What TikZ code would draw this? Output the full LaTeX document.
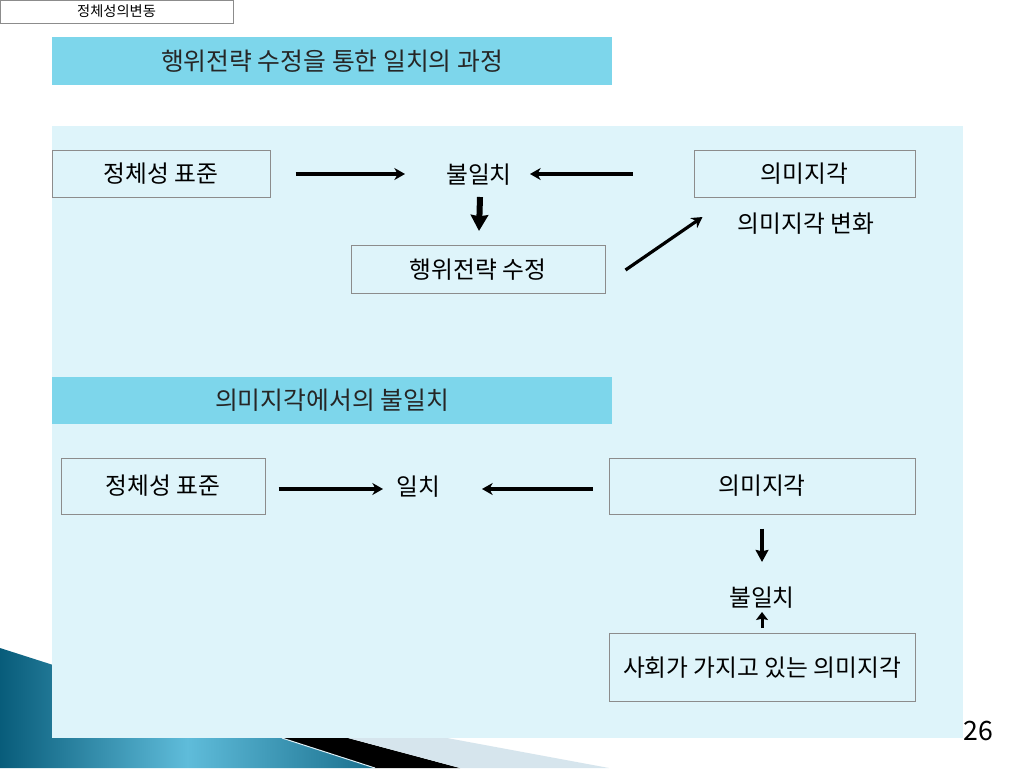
\documentclass[tikz,border=0pt]{standalone}
\usepackage{fontspec}
\setmainfont{Noto Sans CJK KR}
\usepackage{tikz}
\usetikzlibrary{calc}
\usetikzlibrary{positioning}
\usetikzlibrary{arrows.meta}
\definecolor{barcyan}{RGB}{125,214,235}
\definecolor{panelblue}{RGB}{222,244,250}
\definecolor{boxgray}{RGB}{140,140,140}
\definecolor{tealdark}{RGB}{8,92,122}
\definecolor{teallight}{RGB}{95,188,218}
\definecolor{fangray}{RGB}{214,229,237}

\begin{document}
\begin{tikzpicture}[x=0.75pt,y=-0.75pt]
\tikzstyle{box}=[rectangle,align=center,draw=boxgray,line width=0.75pt,inner sep=0pt,font=\fontsize{17.8}{21}\selectfont]
\tikzstyle{bar}=[rectangle,align=center,fill=barcyan,inner sep=0pt,minimum width=420pt,text=black!85,font=\fontsize{18.6}{22}\selectfont]
\tikzstyle{word}=[inner sep=0pt,font=\fontsize{17.8}{21}\selectfont]
\tikzstyle{arr}=[line width=2.4pt,-{Stealth[length=8pt,width=9pt,inset=2.5pt]}]
\tikzstyle{bigdown}=[line width=4.5pt,-{Stealth[length=12pt,width=13pt,inset=1pt]}]
\tikzstyle{down}=[line width=3pt,-{Stealth[length=9pt,width=9.5pt,inset=1pt]}]
\tikzstyle{up}=[line width=2.25pt,-{Stealth[length=6pt,width=9pt,inset=1pt]}]
\useasboundingbox (0,0) rectangle (1024,768);
\fill[white] (0,0) rectangle (1024,768);
\shade[left color=tealdark,right color=tealdark!80!teallight,middle color=teallight] (0,648) -- (375,768) -- (0,768) -- cycle;
\fill[black] (282,738) -- (348,738) -- (460,768) -- (375,768) -- cycle;
\fill[fangray] (348,738) -- (447,738) -- (609,768) -- (460,768) -- cycle;
\draw[white!80!teallight,line width=0.75pt] (282,738) -- (375,768);
\fill[panelblue] (52,126) rectangle (963,738);

\node[box,fill=white,minimum width=174.75pt,minimum height=17.25pt,font=\fontsize{10.7}{12}\selectfont] at(116.5, 11.5) (tab) {정체성의변동};
\node[bar,minimum height=36pt] at(332, 61) (ttl1) {행위전략 수정을 통한 일치의 과정};
\node[box,minimum width=163.5pt,minimum height=35.25pt] at(161, 174) (std1) {정체성 표준};
\node[word] at(479, 175) (mis1) {불일치};
\node[box,minimum width=165.75pt,minimum height=35.25pt] at(804.5, 174) (per1) {의미지각};
\node[box,minimum width=190.5pt,minimum height=36pt] at(478, 269.5) (act) {행위전략 수정};
\node[word] at(806, 224) (chg) {의미지각 변화};
\node[bar,minimum height=35.25pt] at(332, 400) (ttl2) {의미지각에서의 불일치};
\node[box,minimum width=153pt,minimum height=42pt] at(163, 486) (std2) {정체성 표준};
\node[word] at(418, 487) (mat) {일치};
\node[box,minimum width=229.5pt,minimum height=42pt] at(762, 486) (per2) {의미지각};
\node[word] at(762, 598) (mis2) {불일치};
\node[box,minimum width=229.5pt,minimum height=51pt] at(762, 667.5) (soc) {사회가 가지고 있는 의미지각};
\node[inner sep=0pt,font=\fontsize{20}{24}\selectfont] at(978, 731) (pg) {26};

\draw[arr] ([shift={(25,0)}]std1.east) -- ([shift={(-74,-1)}]mis1.center);
\draw[arr] ([shift={(-61,0)}]per1.west) -- ([shift={(51,-1)}]mis1.center);
\draw[bigdown] ([shift={(1,22)}]mis1.center) -- ([shift={(1,-14)}]act.north);
\draw[arr] ([shift={(20,0.5)}]act.east) -- ([shift={(9,19)}]per1.south west);
\draw[arr] ([shift={(13,3)}]std2.east) -- ([shift={(-35,2)}]mat.center);
\draw[arr] ([shift={(-16,3)}]per2.west) -- ([shift={(64,2)}]mat.center);
\draw[down] ([shift={(0,14)}]per2.south) -- ([shift={(0,-36)}]mis2.center);
\draw[up] ([shift={(0,-5)}]soc.north) -- ([shift={(0,14)}]mis2.center);
\end{tikzpicture}
\end{document}
